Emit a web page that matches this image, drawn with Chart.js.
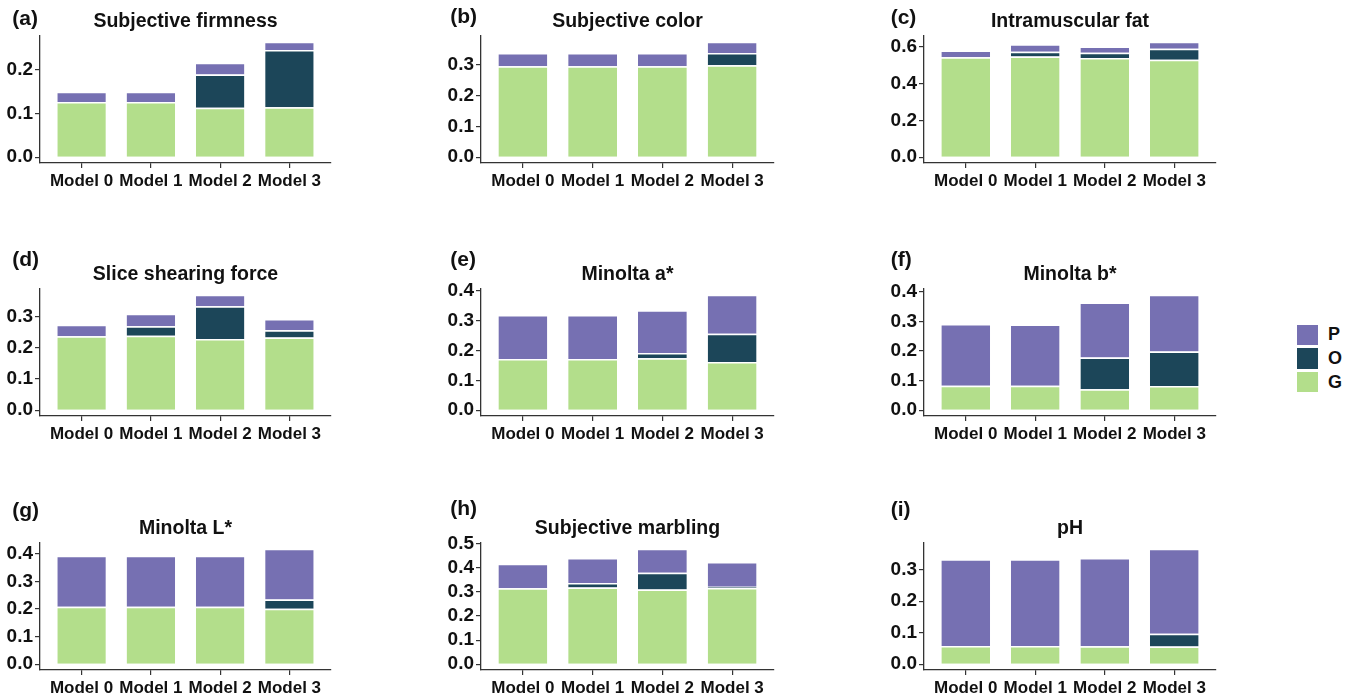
<!DOCTYPE html>
<html>
<head>
<meta charset="utf-8">
<title>Stacked contributions by model</title>
<script src="https://cdn.jsdelivr.net/npm/chart.js@4.4.1/dist/chart.umd.min.js"></script>
<style>
    html, body { margin: 0; padding: 0; background: #fff; }
    body { width: 1354px; height: 695px; position: relative; overflow: hidden;
           font-family: "Liberation Sans", Arial, sans-serif; }
    canvas.panel { position: absolute; }
    .legend { position: absolute; left: 1297px; top: 323px; }
    .legend-row { display: flex; align-items: center; height: 23.7px; }
    .swatch { width: 21px; height: 20.5px; }
    .legend-row span { margin-left: 10px; font-weight: bold; font-size: 18px; color: #111; }
</style>
</head>
<body>
<div class="legend" id="legend"></div>
<script>
const models = ['Model 0', 'Model 1', 'Model 2', 'Model 3'];
const seriesNames = ['G', 'O', 'P'];
const seriesColors = ['#b3de8b', '#1c4659', '#7670b2'];

const titles = ['Subjective firmness', 'Subjective color', 'Intramuscular fat',
                'Slice shearing force', 'Minolta a*', 'Minolta b*',
                'Minolta L*', 'Subjective marbling', 'pH'];
const letters = ['(a)', '(b)', '(c)', '(d)', '(e)', '(f)', '(g)', '(h)', '(i)'];

// segment heights per model (G bottom, O middle, P top)
const firmnessG = [0.126, 0.126, 0.113, 0.114];
const firmnessO = [0, 0, 0.076, 0.131];
const firmnessP = [0.024, 0.024, 0.027, 0.019];

const colorG = [0.295, 0.295, 0.295, 0.298];
const colorO = [0, 0, 0, 0.040];
const colorP = [0.043, 0.043, 0.043, 0.036];

const fatG = [0.545, 0.549, 0.540, 0.531];
const fatO = [0, 0.025, 0.029, 0.060];
const fatP = [0.037, 0.042, 0.034, 0.038];

const shearG = [0.237, 0.239, 0.228, 0.233];
const shearO = [0, 0.030, 0.105, 0.023];
const shearP = [0.037, 0.040, 0.037, 0.036];

const aStarG = [0.172, 0.172, 0.174, 0.162];
const aStarO = [0, 0, 0.018, 0.094];
const aStarP = [0.147, 0.147, 0.143, 0.131];

const bStarG = [0.083, 0.083, 0.071, 0.082];
const bStarO = [0, 0, 0.107, 0.116];
const bStarP = [0.208, 0.207, 0.186, 0.192];

const lStarG = [0.208, 0.208, 0.208, 0.201];
const lStarO = [0, 0, 0, 0.033];
const lStarP = [0.185, 0.185, 0.185, 0.184];

const marblingG = [0.315, 0.318, 0.310, 0.316];
const marblingO = [0, 0.019, 0.070, 0.005];
const marblingP = [0.102, 0.104, 0.099, 0.103];

const phG = [0.058, 0.058, 0.057, 0.056];
const phO = [0, 0, 0, 0.041];
const phP = [0.275, 0.275, 0.280, 0.269];

const ticks3 = [0, 0.1, 0.2, 0.3];
const ticks4 = [0, 0.1, 0.2, 0.3, 0.4];
const firmnessTicks = [0, 0.1, 0.2];
const fatTicks = [0, 0.2, 0.4, 0.6];
const marblingTicks = [0, 0.1, 0.2, 0.3, 0.4, 0.5];

const panels = [
    [firmnessG, firmnessO, firmnessP, firmnessTicks],
    [colorG, colorO, colorP, ticks3],
    [fatG, fatO, fatP, fatTicks],
    [shearG, shearO, shearP, ticks3],
    [aStarG, aStarO, aStarP, ticks4],
    [bStarG, bStarO, bStarP, ticks4],
    [lStarG, lStarO, lStarP, ticks4],
    [marblingG, marblingO, marblingP, marblingTicks],
    [phG, phO, phP, ticks3],
];

// page layout of the 3x3 grid
const plotLeft = [39.7, 480.7, 924.3];
const plotWidth = [291.3, 293.3, 291.7];
const plotTop = [36, 289.3, 542.7];
const plotHeight = 127;
const letterX = [12, 450, 891];
const letterY = [[19, 17.5, 18], [260.8, 260.8, 260.8], [510.8, 509, 510]];

const FONT = '"Liberation Sans", Arial, sans-serif';
const AXIS = '#333';
Chart.defaults.font.family = FONT;

const panelText = {
    id: 'panelText',
    afterDraw(chart, args, opts) {
        const { ctx, chartArea } = chart;
        ctx.save();
        ctx.fillStyle = '#111';
        ctx.textBaseline = 'middle';
        ctx.textAlign = 'center';
        ctx.font = 'bold 19.5px ' + FONT;
        ctx.fillText(opts.title, (chartArea.left + chartArea.right) / 2, chartArea.top - 14);
        ctx.textAlign = 'left';
        ctx.font = 'bold 21px ' + FONT;
        ctx.fillText(opts.letter, opts.x, opts.y);
        ctx.restore();
    }
};

function createStackedPanel(idx) {
    const col = idx % 3, row = Math.floor(idx / 3);
    const [g, o, p, tickValues] = panels[idx];
    const padL = 45, padT = 48, padR = 10, padB = 35;
    const left = plotLeft[col] - padL, top = plotTop[row] - padT;

    const canvas = document.createElement('canvas');
    canvas.className = 'panel';
    canvas.width = Math.round(padL + plotWidth[col] + padR);
    canvas.height = padT + plotHeight + padB;
    canvas.style.left = left + 'px';
    canvas.style.top = top + 'px';
    document.body.appendChild(canvas);

    const totals = g.map((v, i) => v + o[i] + p[i]);
    const peak = Math.max(...totals);

    const datasets = [g, o, p].map((vals, k) => ({
        label: seriesNames[k],
        data: vals.map((v, i) => ({ x: i, y: v })),
        backgroundColor: seriesColors[k],
        borderColor: '#ffffff',
        borderWidth: { top: 1.5, left: 0, right: 0, bottom: 0 },
        barPercentage: 0.7,
        categoryPercentage: 1,
    }));

    return new Chart(canvas, {
        type: 'bar',
        data: { datasets: datasets },
        plugins: [panelText],
        options: {
            responsive: false,
            animation: false,
            devicePixelRatio: 1,
            layout: { padding: { left: 0, top: padT, right: padR, bottom: 0 } },
            plugins: {
                legend: { display: false },
                tooltip: { enabled: false },
                panelText: {
                    title: titles[idx],
                    letter: letters[idx],
                    x: letterX[col] - left,
                    y: letterY[row][col] - top,
                },
            },
            scales: {
                x: {
                    type: 'linear',
                    stacked: true,
                    min: -0.6,
                    max: 3.6,
                    offset: false,
                    afterFit: s => { s.height = padB; },
                    afterBuildTicks: s => { s.ticks = models.map((m, i) => ({ value: i })); },
                    ticks: {
                        autoSkip: false,
                        maxRotation: 0,
                        padding: 3,
                        color: '#111',
                        font: { size: 17, weight: 'bold' },
                        callback: v => models[v],
                    },
                    grid: { offset: false, drawOnChartArea: false, tickLength: 5, color: AXIS, lineWidth: 1.2 },
                    border: { display: true, color: AXIS, width: 1.3 },
                },
                y: {
                    stacked: true,
                    min: -0.05 * peak,
                    max: 1.05 * peak,
                    afterFit: s => { s.width = padL; },
                    afterBuildTicks: s => { s.ticks = tickValues.map(v => ({ value: v })); },
                    ticks: {
                        autoSkip: false,
                        padding: 2,
                        color: '#111',
                        font: { size: 19, weight: 'bold' },
                        callback: v => v.toFixed(1),
                    },
                    grid: { drawOnChartArea: false, tickLength: 5, color: AXIS, lineWidth: 1.2 },
                    border: { display: true, color: AXIS, width: 1.3 },
                },
            },
        },
    });
}

panels.forEach((_, i) => createStackedPanel(i));

// legend: P, O, G from top
const legend = document.getElementById('legend');
[2, 1, 0].forEach(k => {
    const row = document.createElement('div');
    row.className = 'legend-row';
    row.innerHTML = '<div class="swatch" style="background:' + seriesColors[k] + '"></div><span>' + seriesNames[k] + '</span>';
    legend.appendChild(row);
});
</script>
</body>
</html>
